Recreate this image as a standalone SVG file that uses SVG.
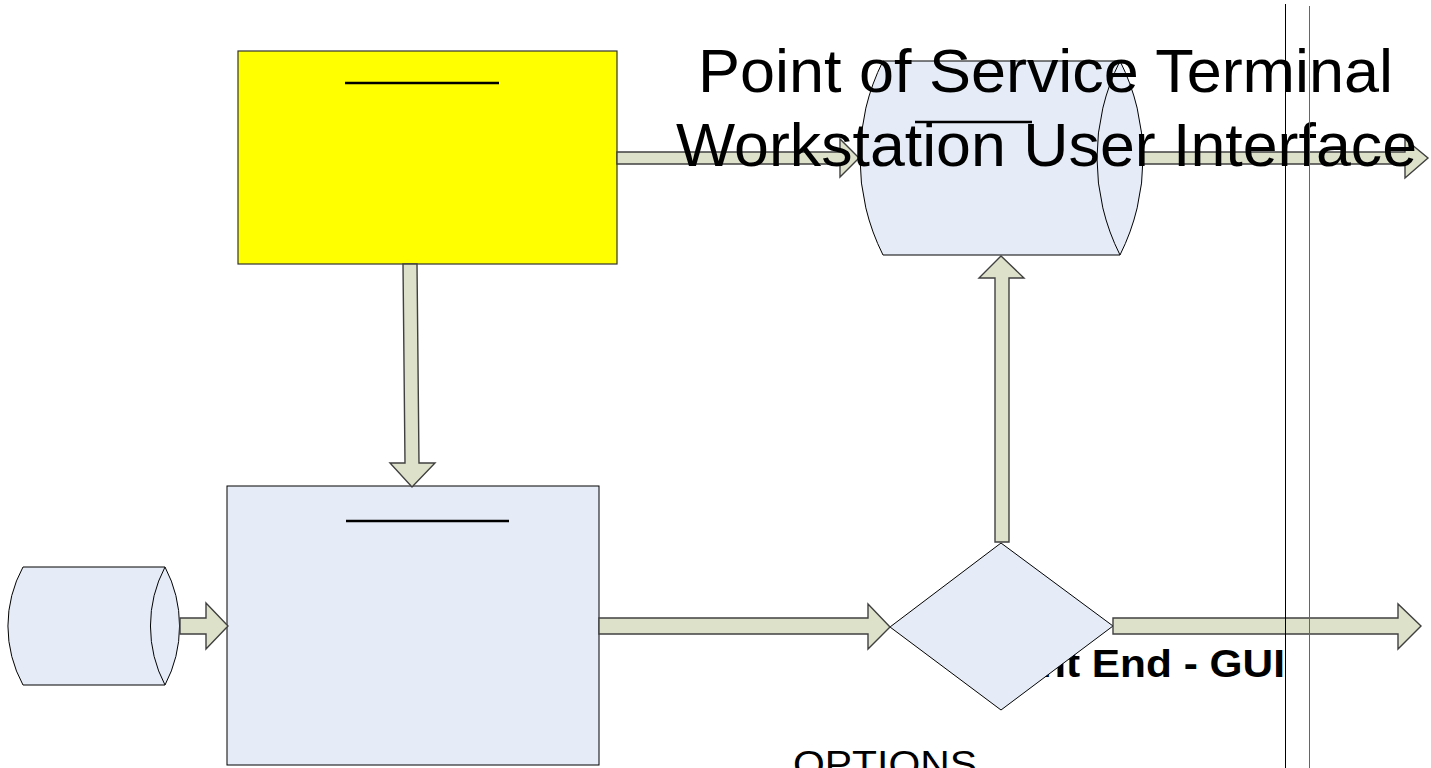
<svg xmlns="http://www.w3.org/2000/svg" width="1431" height="768" viewBox="0 0 1431 768">
<style>
.node{fill:#e6ecf7;stroke:#000;stroke-width:1}
.yellow{fill:#ffff00;stroke:#333;stroke-width:1.2}
.arrow{fill:#dde1ca;stroke:#404040;stroke-width:1.4;stroke-linejoin:miter}
.bar{stroke:#000;stroke-width:2.5}
.title{font-family:"Liberation Sans",Arial,sans-serif;font-size:61px;fill:#000}
.lbl{font-family:"Liberation Sans",Arial,sans-serif;font-weight:bold;font-size:38px;fill:#000}
.opt{font-family:"Liberation Sans",Arial,sans-serif;font-size:37px;fill:#000}
</style>
<defs>
<clipPath id="clipGui"><rect x="0" y="0" width="1285" height="768"/></clipPath>
</defs>
<rect width="1431" height="768" fill="#fff"/>
<g id="label-gui" clip-path="url(#clipGui)">
<text class="lbl" x="1040" y="677" textLength="245" lengthAdjust="spacingAndGlyphs">nt End - GUI</text>
</g>
<g id="node-yellow">
<rect class="yellow" x="238" y="51" width="379" height="213"/>
<line class="bar" x1="345" y1="83" x2="499" y2="83"/>
</g>
<g id="node-box">
<rect class="node" x="227" y="486" width="372" height="279"/>
<line class="bar" x1="346" y1="521" x2="509" y2="521"/>
</g>
<g id="node-left-cyl">
<path class="node" d="M23,567 L165,567 A127,127 0 0 1 165,685 L23,685 A123,123 0 0 1 23,567 Z"/>
<path class="node" d="M165,567 A127,127 0 0 0 165,685" fill="none"/>
</g>
<g id="node-top-cyl">
<path class="node" d="M883,61 L1120,61 A216,216 0 0 1 1120,255 L883,255 A216,216 0 0 1 883,61 Z"/>
<path class="node" d="M1120,61 A216,216 0 0 0 1120,255" fill="none"/>
<line class="bar" x1="915" y1="122" x2="1032" y2="122"/>
</g>
<g id="node-diamond">
<polygon class="node" points="890,627 1001,543 1113,626 1001,710"/>
</g>
<g id="connectors">
<polygon class="arrow" points="617,152 840,152 840,139 859,158 840,177 840,164 617,164"/>
<polygon class="arrow" points="1143,152 1405,152 1405,139 1428,158 1405,178 1405,164 1143,164"/>
<polygon class="arrow" points="403,264 417,264 419,463 435,463 412,487 390,463 405,463"/>
<polygon class="arrow" points="995,542 995,278 979,278 1001,256 1024,278 1009,278 1009,542"/>
<polygon class="arrow" points="180,618 206,618 206,603 228,626 206,649 206,634 180,634"/>
<polygon class="arrow" points="599,618 868,618 868,604 890,627 868,649 868,634 599,634"/>
<polygon class="arrow" points="1113,618 1398,618 1398,604 1421,626 1398,649 1398,634 1113,634"/>
</g>
<g id="title">
<text class="title" x="698" y="92" textLength="695" lengthAdjust="spacingAndGlyphs">Point of Service Terminal</text>
<text class="title" x="676" y="166" textLength="741" lengthAdjust="spacingAndGlyphs">Workstation User Interface</text>
</g>
<g id="label-options">
<text class="opt" x="793" y="777" textLength="184" lengthAdjust="spacingAndGlyphs">OPTIONS</text>
</g>
<g id="swimlane-lines">
<line x1="1285.5" y1="4" x2="1285.5" y2="768" stroke="#000" stroke-width="1"/>
<line x1="1309.5" y1="6" x2="1309.5" y2="768" stroke="#666" stroke-width="1"/>
</g>
</svg>
